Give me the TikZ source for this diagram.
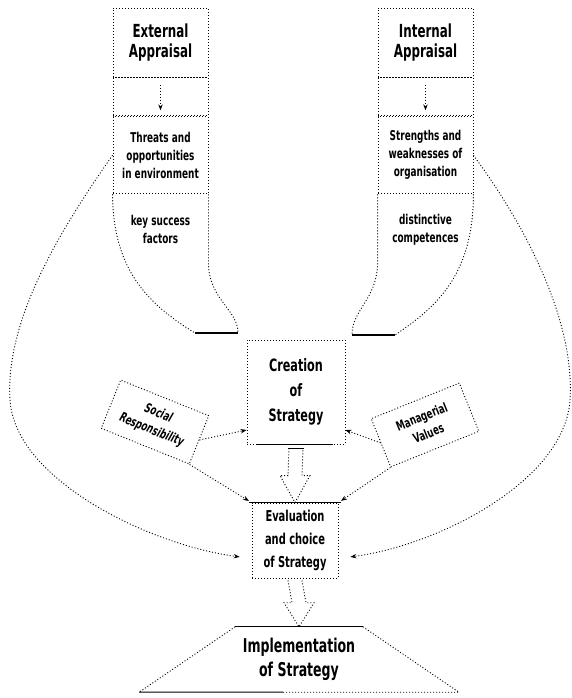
\documentclass[tikz,border=0pt]{standalone}
\usepackage{fontspec}
\setmainfont{DejaVu Sans}[FakeStretch=0.66]
\usepackage{tikz}
\usetikzlibrary{shapes.geometric, arrows.meta, positioning, calc}
\tikzstyle{punteado} = [draw=black, line width=0.9pt, dash pattern=on 1pt off 2pt]
\tikzstyle{barra} = [draw=black, line width=1.3pt]
\tikzstyle{celda} = [rectangle, punteado, 
minimum width=95pt, 
inner sep=2pt, 
align=center]
\tikzstyle{titulo} = [celda, font=\bfseries\fontsize{18}{20}\selectfont]
\tikzstyle{lista} = [celda, font=\bfseries\fontsize{13.5}{18}\selectfont]
\tikzstyle{bloque} = [rectangle, punteado, 
align=center, 
font=\bfseries\fontsize{17}{25}\selectfont]
\tikzstyle{lateral} = [rectangle, punteado, 
minimum width=95pt, 
minimum height=52pt, 
align=center, 
font=\bfseries\fontsize{13}{18}\selectfont]
\tikzstyle{trap} = [trapezium, 
trapezium stretches=true, 
trapezium left angle=29, 
trapezium right angle=29, 
minimum width=320pt, 
minimum height=65pt, 
align=center, 
font=\bfseries\fontsize{19}{24}\selectfont]
\tikzstyle{arrow} = [punteado, -{Stealth[length=6pt, width=4.5pt]}]

\begin{document}
\begin{tikzpicture}[x=1pt, y=-1pt, node distance=0pt]
        \useasboundingbox (0,0) rectangle (572,698);

        % Columna izquierda: analisis externo
        \node (ext1) [titulo, minimum height=69pt] at (160.5,42.5) {External\\Appraisal};
        \node (ext2) [celda, minimum height=38pt, below=of ext1] {};
        \node (ext3) [lista, minimum height=77pt, below=of ext2] {Threats and\\opportunities\\in environment};
        \node (ext4) [lista, draw=none, minimum height=70pt, below=of ext3] {key success\\factors};

        % Columna derecha: analisis interno
        \node (int1) [titulo, minimum height=69pt] at (425.5,42.5) {Internal\\Appraisal};
        \node (int2) [celda, minimum height=38pt, below=of int1] {};
        \node (int3) [lista, minimum height=77pt, below=of int2] {Strengths and\\weaknesses of\\organisation};
        \node (int4) [lista, draw=none, minimum height=70pt, below=of int3] {distinctive\\competences};

        % Bloques centrales
        \node (cre) [bloque, minimum width=98pt, minimum height=104pt] at (296,392) {Creation\\of\\Strategy};
        \node (eva) [bloque, minimum width=86pt, minimum height=75pt, font=\bfseries\fontsize{15}{23}\selectfont] at (295,540.5) {Evaluation\\and choice\\of Strategy};
        \node (imp) [trap] at (299,659.5) {Implementation\\of Strategy};

        % Factores laterales
        \node (soc) [lateral, rotate=-22, font=\bfseries\itshape\fontsize{13}{18}\selectfont] at (155,422) {Social\\Responsibility};
        \node (mgr) [lateral, rotate=22] at (425,425) {Managerial\\Values};

        % Flechas pequenas dentro de las columnas
        \draw [arrow] (ext1.south) -- (ext3.north) [shorten <=8pt, shorten >=6pt];
        \draw [arrow] (int1.south) -- (int3.north) [shorten <=8pt, shorten >=6pt];

        % Embudos hacia la creacion de estrategia
        \coordinate (lf1) at (195,333);
        \coordinate (lf2) at (238,333);
        \draw [punteado] (ext4.north west) .. controls (113,272) and (150,305) .. (lf1);
        \draw [punteado] (ext4.north east) -- (ext4.south east) .. controls (210,300) and (238,310) .. (lf2);
        \draw [barra] (lf1) -- (lf2);

        \coordinate (rf1) at (352,335);
        \coordinate (rf2) at (395,335);
        \draw [punteado] (int4.north east) .. controls (473,272) and (440,305) .. (rf2);
        \draw [punteado] (int4.north west) -- (int4.south west) .. controls (376,300) and (352,310) .. (rf1);
        \draw [barra] (rf1) -- (rf2);

        % Trazos solidos de los bloques
        \draw [barra] ([xshift=10pt]cre.south west) -- ([xshift=-12pt]cre.south east);
        \draw [barra] ([xshift=-3pt]eva.north west) -- ([xshift=3pt]eva.north east);
        \draw [barra] (imp.top left corner) -- (imp.top right corner);
        \draw [punteado] (imp.top left corner) -- (imp.bottom left corner);
        \draw [barra, line width=1pt] (imp.bottom left corner) -- ($(imp.bottom left corner)!0.45!(imp.bottom right corner)$);
        \draw [punteado] ($(imp.bottom left corner)!0.45!(imp.bottom right corner)$) -- (imp.bottom right corner);
        \draw [punteado] (imp.top right corner) -- (imp.bottom right corner);

        % Flechas huecas entre bloques
        \draw [barra, line width=1pt] ($(cre.south)+(-8,4)$) -- ($(cre.south)+(8,4)$);
        \draw [punteado] ($(cre.south)+(-7,4)$) -- ($(eva.north)+(-7,-27)$) -- ($(eva.north)+(-15,-27)$) -- (eva.north)
              -- ($(eva.north)+(15,-27)$) -- ($(eva.north)+(7,-27)$) -- ($(cre.south)+(7,4)$);
        \draw [punteado] ($(eva.south)+(-7,2)$) -- ($(imp.north)+(-7,-24)$) -- ($(imp.north)+(-15,-24)$) -- (imp.north)
              -- ($(imp.north)+(15,-24)$) -- ($(imp.north)+(7,-24)$) -- ($(eva.south)+(7,2)$);

        % Valores y responsabilidad hacia creacion y evaluacion
        \draw [arrow] (soc.east) -- ([yshift=-38pt]cre.west);
        \draw [arrow] (soc.south east) -- (eva.north west) [shorten >=3pt];
        \draw [arrow] (mgr.west) -- ([yshift=-38pt]cre.east);
        \draw [arrow] (mgr.south west) -- (eva.north east) [shorten >=3pt];

        % Retornos largos por los costados
        \draw [arrow, shorten >=12pt] (ext3.west) .. controls (60,230) and (5,320) .. (10,400)
              .. controls (15,480) and (150,545) .. ([yshift=-18pt]eva.west);
        \draw [arrow, shorten >=12pt] (int3.east) .. controls (525,225) and (575,320) .. (570,400)
              .. controls (565,480) and (440,545) .. ([yshift=-18pt]eva.east);

    \end{tikzpicture}
\end{document}
